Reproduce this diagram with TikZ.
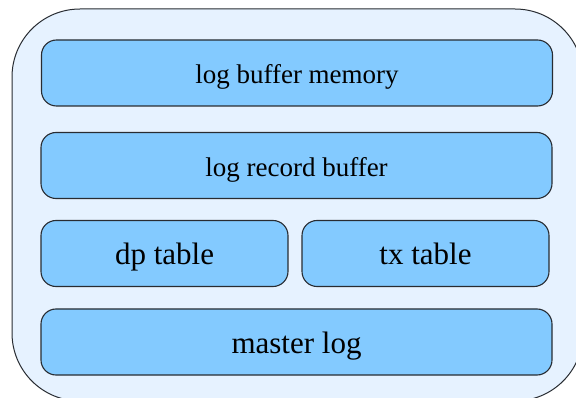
\documentclass[tikz,border=0pt]{standalone}
\usepackage{fontspec}
\setmainfont{Liberation Serif}
\usetikzlibrary{positioning}

\definecolor{panelfill}{RGB}{230,242,255}
\definecolor{boxfill}{RGB}{131,202,255}
\definecolor{boxline}{RGB}{40,44,50}

\tikzset{
  part/.style = {draw = boxline, fill = boxfill, line width = 1.1pt,
    rounded corners = 15pt, inner sep = 0pt, minimum height = 66pt,
    text height = 22pt, text depth = 0pt},
  wide/.style = {part, minimum width = 511pt, font = \fontsize{27}{30}\selectfont},
  half/.style = {part, minimum width = 247pt, font = \fontsize{31}{34}\selectfont}
}

\begin{document}
\begin{tikzpicture}[x = 1pt, y = -1pt]
  \clip (0, 0) rectangle (576, 398);
  \useasboundingbox (0, 0) rectangle (576, 398);

  \draw[draw = boxline, fill = panelfill, line width = 1pt,
  rounded corners = 68pt] (12, 9) rectangle (583, 401);

  \node[wide] (memory) at (297, 73) {log buffer memory};
  \node[wide] (record) at (296.5, 165.5) {log record buffer};
  \node[half] (dptable) at (164.5, 253.5) {dp table};
  \node[half] (txtable) at (425.5, 253.5) {tx table};
  \node[wide, font = \fontsize{31}{34}\selectfont] (master) at (296.5, 342)
  {master log};
\end{tikzpicture}
\end{document}
